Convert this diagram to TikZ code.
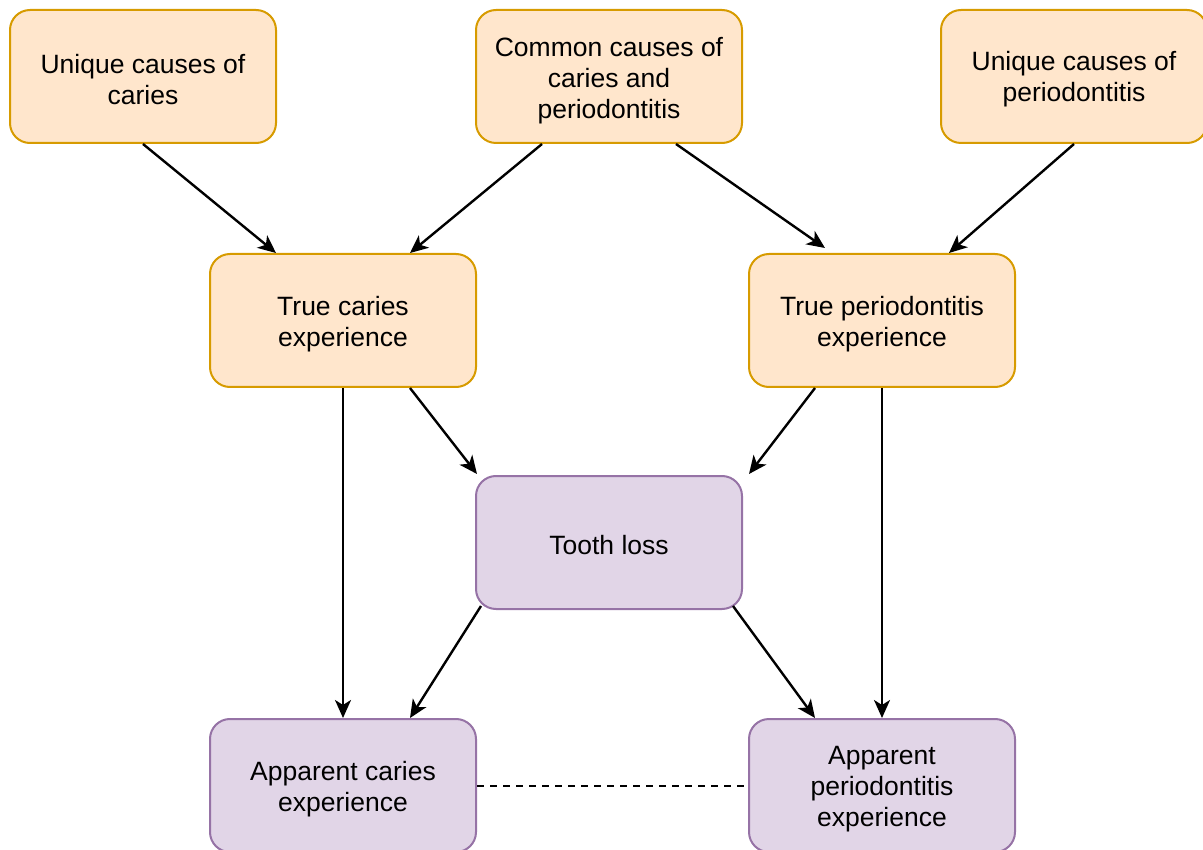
\documentclass[tikz,border=0pt]{standalone}
\usepackage{fontspec}
\setmainfont{Liberation Sans}
\usetikzlibrary{arrows.meta,calc}
\definecolor{ofill}{HTML}{FFE6CC}
\definecolor{odraw}{HTML}{D79B00}
\definecolor{pfill}{HTML}{E1D5E7}
\definecolor{pdraw}{HTML}{9673A6}
\tikzset{
  box/.style={rectangle, rounded corners=20pt, minimum width=266pt, minimum height=133pt,
    line width=2pt, inner sep=0pt},
  obox/.style={box, fill=ofill, draw=odraw},
  pbox/.style={box, fill=pfill, draw=pdraw},
  txt/.style={align=center, inner sep=0pt, font=\fontsize{26.5}{31}\selectfont},
  conn/.style={line width=2.4pt, -{Stealth[length=18pt,width=16pt,inset=5pt]}},
  dconn/.style={line width=2pt, dash pattern=on 7pt off 6pt}
}
\begin{document}
\begin{tikzpicture}[x=1pt,y=-1pt]
\useasboundingbox (0,0) rectangle (1203,850);
\clip (0,0) rectangle (1203,850);
\node[obox] (uc) at (143,76.5) {};
\node[obox] (cc) at (609,76.5) {};
\node[obox] (up) at (1074,76.5) {};
\node[obox] (tc) at (343,320.5) {};
\node[obox] (tp) at (882,320.5) {};
\node[pbox] (tl) at (609,542.5) {};
\node[pbox] (ac) at (343,785.5) {};
\node[pbox] (ap) at (882,785.5) {};

\node[txt] (ucT) at ($(uc.center)+(0,3)$) {Unique causes of\\caries};
\node[txt] (ccT) at ($(cc.center)+(0,4)$) {Common causes of\\caries and\\periodontitis};
\node[txt] (upT) at ($(up.center)+(0,3)$) {Unique causes of\\periodontitis};
\node[txt] (tcT) at ($(tc.center)+(0,4)$) {True caries\\experience};
\node[txt] (tpT) at ($(tp.center)+(0,4)$) {True periodontitis\\experience};
\node[txt] (tlT) at ($(tl.center)+(0,3)$) {Tooth loss};
\node[txt] (acT) at ($(ac.center)+(0,4)$) {Apparent caries\\experience};
\node[txt] (apT) at ($(ap.center)+(0,4)$) {Apparent\\periodontitis\\experience};

\coordinate (t3) at ($(tp.north west)+(77,-5)$);
\coordinate (tlL) at ($(tl.north west)+(2,-1)$);
\coordinate (tlR) at ($(tl.north east)+(6,-1)$);
\coordinate (tlBL) at ($(tl.south west)+(6,-4)$);
\coordinate (tlBR) at ($(tl.south east)+(-10,-4)$);

\draw[conn] (uc.south) -- ($(tc.north west)!0.25!(tc.north east)$);
\draw[conn] ($(cc.south west)!0.25!(cc.south east)$) -- ($(tc.north west)!0.75!(tc.north east)$);
\draw[conn] ($(cc.south west)!0.75!(cc.south east)$) -- (t3);
\draw[conn] (up.south) -- ($(tp.north west)!0.75!(tp.north east)$);
\draw[conn] (tc.south) -- (ac.north);
\draw[conn] ($(tc.south west)!0.75!(tc.south east)$) -- (tlL);
\draw[conn] ($(tp.south west)!0.25!(tp.south east)$) -- (tlR);
\draw[conn] (tp.south) -- (ap.north);
\draw[conn] (tlBL) -- ($(ac.north west)!0.75!(ac.north east)$);
\draw[conn] (tlBR) -- ($(ap.north west)!0.25!(ap.north east)$);
\draw[dconn] (ac.east) -- (ap.west);
\end{tikzpicture}
\end{document}
